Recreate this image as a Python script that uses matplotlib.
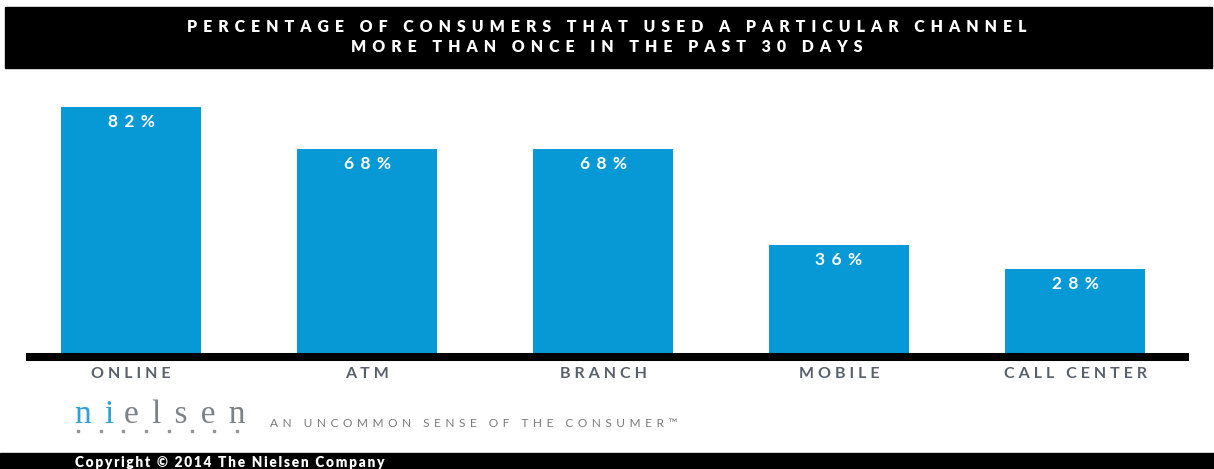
import matplotlib
matplotlib.use("Agg")
import matplotlib.pyplot as plt
import numpy as np
from matplotlib.patches import Rectangle

# channel usage, % of consumers (more than once in past 30 days)
channels = ["ONLINE", "ATM", "BRANCH", "MOBILE", "CALL CENTER"]
usage_pct = [82, 68, 68, 36, 28]

title_lines = [
    "PERCENTAGE OF CONSUMERS THAT USED A PARTICULAR CHANNEL",
    "MORE THAN ONCE IN THE PAST 30 DAYS",
]
tagline = "AN UNCOMMON SENSE OF THE CONSUMER\u2122"
copyright_text = "Copyright \u00a9 2014 The Nielsen Company"

BAR_BLUE = "#0699d6"
LABEL_GREY = "#58616b"
FONTS = ["Lato", "DejaVu Sans"]
THIN = "\u2009"

W, H = 1214, 469


def fx(px):
    return px / W


def fy(py):
    return 1 - py / H


def tracked(s, gap=THIN):
    # poor man's letter spacing
    return gap.join(s)


plt.rcParams["font.family"] = FONTS
fig = plt.figure(figsize=(W / 100, H / 100), dpi=100)
fig.patch.set_facecolor("white")

# header band
fig.patches.append(Rectangle((fx(5), fy(68)), fx(1212) - fx(5), fy(7) - fy(68),
                             transform=fig.transFigure, color="black", zorder=0))
for line, py in zip(title_lines, [27, 47]):
    fig.text(0.5, fy(py), tracked(line, THIN * 3), color="white", ha="center",
             va="center", fontsize=11.4, fontweight="heavy")

# bars
ax = fig.add_axes([fx(30), fy(353), fx(1185) - fx(30), 255 / H])
x = np.arange(len(channels))
bars = ax.bar(x, usage_pct, width=0.593, color=BAR_BLUE, zorder=2)
ax.set_xlim(-0.428, 4.466)
ax.set_ylim(0, 85)
ax.axhline(-1.35, color="black", lw=5.8, clip_on=False, zorder=3)
for side in ax.spines.values():
    side.set_visible(False)
ax.set_yticks([])
ax.set_xticks(x)
ax.set_xticklabels([tracked(c, THIN * 2) for c in channels], color=LABEL_GREY,
                   fontsize=11.5, fontweight="bold")
ax.tick_params(axis="x", length=0, pad=10)
ax.patch.set_alpha(0)

for xi, v in zip(x, usage_pct):
    ax.annotate(tracked(f"{v}%", THIN * 3), (xi, v), xytext=(0, -11),
                textcoords="offset points", ha="center", va="center",
                color="white", fontsize=12.5, fontweight="bold")

# footer logo: blue "ni" followed by grey "elsen"
logo_kw = dict(fontsize=24, family=["Liberation Serif"], ha="left", va="baseline")
ni = fig.text(fx(75), fy(423), tracked("ni", THIN * 2), color="#2fa2da", **logo_kw)
fig.canvas.draw()
ni_box = ni.get_window_extent(fig.canvas.get_renderer())
fig.text((ni_box.x1 + 10) / W, fy(423), tracked("elsen", THIN * 2), color="#7d8288",
         **logo_kw)
dot_x = np.linspace(fx(78), fx(237), 8)
fig.add_artist(plt.Line2D(dot_x, [fy(431)] * 8, transform=fig.transFigure,
                          ls="none", marker="s", ms=1.8, color="#8f959b"))
fig.text(fx(270), fy(423), tracked(tagline, THIN * 3), color="#7a7a7a",
         fontsize=8.6, ha="left", va="center")

# copyright band
fig.patches.append(Rectangle((0, 0), 1, fy(453), transform=fig.transFigure,
                             color="black", zorder=0))
fig.text(fx(75), fy(462), tracked(copyright_text, THIN), color="white",
         fontsize=9.8, fontweight="heavy", ha="left", va="center")

fig.savefig("out.png", dpi=100)
